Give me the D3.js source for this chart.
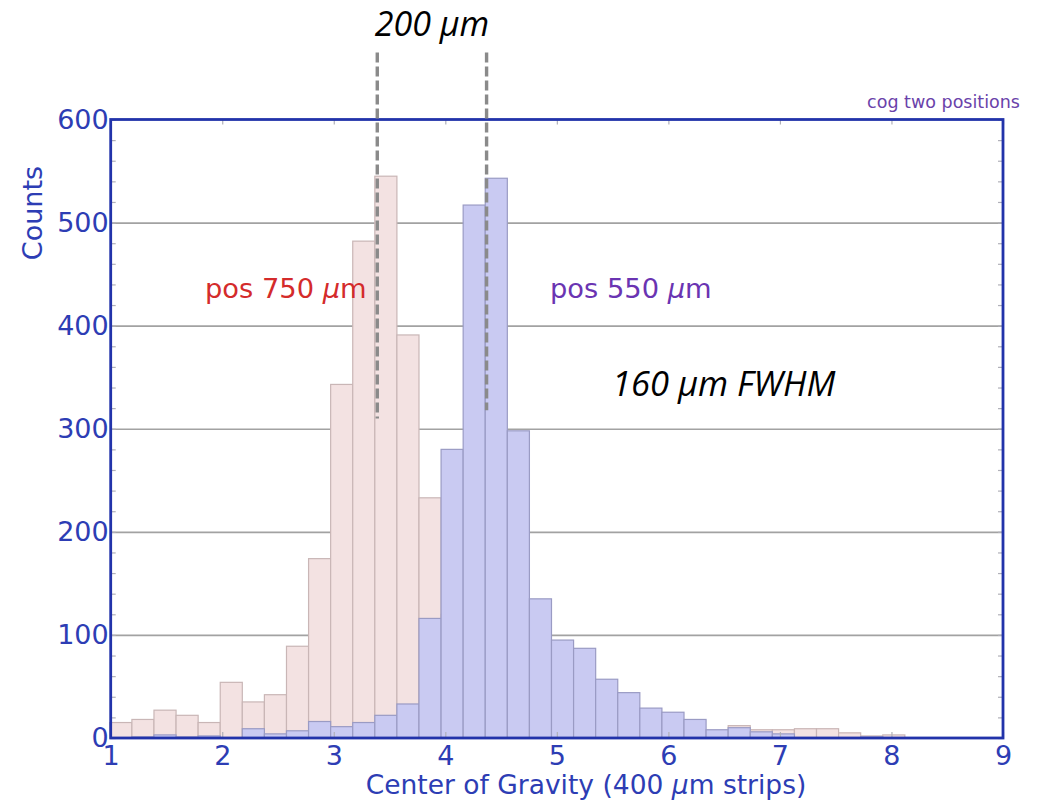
<!DOCTYPE html>
<html>
<head>
<meta charset="utf-8">
<script src="https://cdn.jsdelivr.net/npm/d3@7"></script>
<style>
  body { margin: 0; background: #fff; }
  text { font-family: "DejaVu Sans", sans-serif; }
</style>
</head>
<body>
<svg id="chart" width="1039" height="804"></svg>
<script>
// histogram bins (centre of gravity, in strip units)
const binStart = 0.992
const binWidth = 0.198

// counts per bin, same bins for both positions
const pos750Counts = [15, 18, 27, 22, 15, 54, 35, 42, 89, 174, 343, 482, 545, 391, 233, 120, 55, 30,
    18, 14, 10, 8, 6, 5, 6, 4, 5, 6, 12, 8, 8, 9, 9, 5, 2, 3]
const pos550Counts = [0, 1, 3, 1, 2, 0, 9, 4, 7, 16, 11, 15, 22, 33, 116, 280, 517, 543,
    298, 135, 95, 87, 57, 44, 29, 25, 18, 8, 10, 6, 4, 0, 0, 0, 1, 0]

const xTicks = [1, 2, 3, 4, 5, 6, 7, 8, 9]
const yTicks = [0, 100, 200, 300, 400, 500, 600]
const gridValues = [100, 200, 300, 400, 500]

// peak markers (x position, bottom count), drawn up above the frame
const peakX = [3.39, 4.37]
const peakBottom = [310, 318]
const peakTop = 665

const blue = '#2233aa'
const labelBlue = '#2d3db4'

const svg = d3.select('#chart')

// scales //
const x = d3.scaleLinear().domain([1, 9]).range([110.7, 1003])
const y = d3.scaleLinear().domain([0, 600]).range([738, 119.5])
const plotLeft = x.range()[0], plotRight = x.range()[1]
const plotBottom = y.range()[0], plotTop = y.range()[1]

// gridlines //
svg.append('g')
    .attr('transform', `translate(${plotLeft},0)`)
    .call(d3.axisLeft(y).tickValues(gridValues).tickSize(-(plotRight - plotLeft)).tickFormat(''))
    .call(g => g.select('.domain').remove())
    .selectAll('line')
    .attr('stroke', '#a2a2a2')
    .attr('stroke-width', 1.6)

// bars //
function toBins(counts) {
    return counts.map((c, i) => ({ x0: binStart + i * binWidth, x1: binStart + (i + 1) * binWidth, count: c }))
        .filter(d => d.count > 0)
}

function drawBars(counts, fill, stroke) {
    svg.append('g')
        .selectAll('rect')
        .data(toBins(counts))
        .join('rect')
        .attr('x', d => x(d.x0))
        .attr('width', d => x(d.x1) - x(d.x0))
        .attr('y', d => y(d.count))
        .attr('height', d => y(0) - y(d.count))
        .attr('fill', fill)
        .attr('stroke', stroke)
        .attr('stroke-width', 1.2)
}
drawBars(pos750Counts, '#f3e2e2', '#c9b6b6')
drawBars(pos550Counts, '#c9caf2', '#9a9bc4')

// inner ticks on all sides //
const tickStyle = g => {
    g.select('.domain').remove()
    g.selectAll('line').attr('stroke', '#b0b0b8').attr('stroke-width', 1.2)
}
const minorY = d3.range(0, 601, 20)
svg.append('g').attr('transform', `translate(${plotLeft},0)`)
    .call(d3.axisLeft(y).tickValues(minorY).tickSize(-5).tickFormat('')).call(tickStyle)
svg.append('g').attr('transform', `translate(${plotRight},0)`)
    .call(d3.axisRight(y).tickValues(minorY).tickSize(-5).tickFormat('')).call(tickStyle)
svg.append('g').attr('transform', `translate(0,${plotBottom})`)
    .call(d3.axisBottom(x).tickValues(xTicks).tickSize(-6).tickFormat('')).call(tickStyle)
svg.append('g').attr('transform', `translate(0,${plotTop})`)
    .call(d3.axisTop(x).tickValues(xTicks).tickSize(-5).tickFormat('')).call(tickStyle)

// frame //
svg.append('rect')
    .attr('x', plotLeft).attr('y', plotTop)
    .attr('width', plotRight - plotLeft).attr('height', plotBottom - plotTop)
    .attr('fill', 'none')
    .attr('stroke', blue)
    .attr('stroke-width', 2.8)

// tick labels //
svg.append('g')
    .attr('transform', `translate(${plotLeft},0)`)
    .call(d3.axisLeft(y).tickValues(yTicks).tickSize(0).tickPadding(2))
    .call(g => g.select('.domain').remove())
    .selectAll('text')
    .attr('fill', labelBlue)
    .style('font-size', '27px')
    .style('font-family', '"DejaVu Sans", sans-serif')

svg.append('g')
    .attr('transform', `translate(0,${plotBottom})`)
    .call(d3.axisBottom(x).tickValues(xTicks).tickSize(0).tickPadding(8))
    .call(g => g.select('.domain').remove())
    .selectAll('text')
    .attr('fill', labelBlue)
    .style('font-size', '27px')
    .style('font-family', '"DejaVu Sans", sans-serif')

// axis titles //
const xTitle = svg.append('text')
    .attr('x', 586)
    .attr('y', 794)
    .attr('text-anchor', 'middle')
    .attr('fill', labelBlue)
    .style('font-size', '26.5px')
xTitle.append('tspan').text('Center of Gravity (400 ')
xTitle.append('tspan').style('font-style', 'italic').text('μ')
xTitle.append('tspan').text('m strips)')

svg.append('text')
    .attr('transform', 'translate(42,213) rotate(-90)')
    .attr('text-anchor', 'middle')
    .attr('fill', labelBlue)
    .style('font-size', '27px')
    .text('Counts')

svg.append('text')
    .attr('x', 1020)
    .attr('y', 108)
    .attr('text-anchor', 'end')
    .attr('fill', '#6a42aa')
    .style('font-size', '17.5px')
    .text('cog two positions')

// series labels //
function posLabel(txt, px, color) {
    const t = svg.append('text')
        .attr('x', px)
        .attr('y', 298)
        .attr('fill', color)
        .style('font-size', '27.3px')
    t.append('tspan').text(txt + ' ')
    t.append('tspan').style('font-style', 'italic').text('μ')
    t.append('tspan').text('m')
}
posLabel('pos 750', 205, '#d42b2b')
posLabel('pos 550', 550, '#6a34b2')

// peak markers //
svg.append('g')
    .selectAll('line')
    .data(peakX)
    .join('line')
    .attr('x1', d => x(d))
    .attr('x2', d => x(d))
    .attr('y1', y(peakTop))
    .attr('y2', (d, i) => y(peakBottom[i]))
    .attr('stroke', '#8a8a8a')
    .attr('stroke-width', 3.4)
    .attr('stroke-dasharray', '10,4')

// annotations //
svg.append('text')
    .attr('x', x((peakX[0] + peakX[1]) / 2))
    .attr('y', 36)
    .attr('text-anchor', 'middle')
    .attr('fill', '#000')
    .style('font-family', '"Open Sans", sans-serif')
    .style('font-style', 'italic')
    .style('font-size', '34px')
    .text('200 μm')

svg.append('text')
    .attr('x', 612)
    .attr('y', 396)
    .attr('fill', '#000')
    .style('font-family', '"Open Sans", sans-serif')
    .style('font-style', 'italic')
    .style('font-size', '34.5px')
    .text('160 μm FWHM')
</script>
</body>
</html>
